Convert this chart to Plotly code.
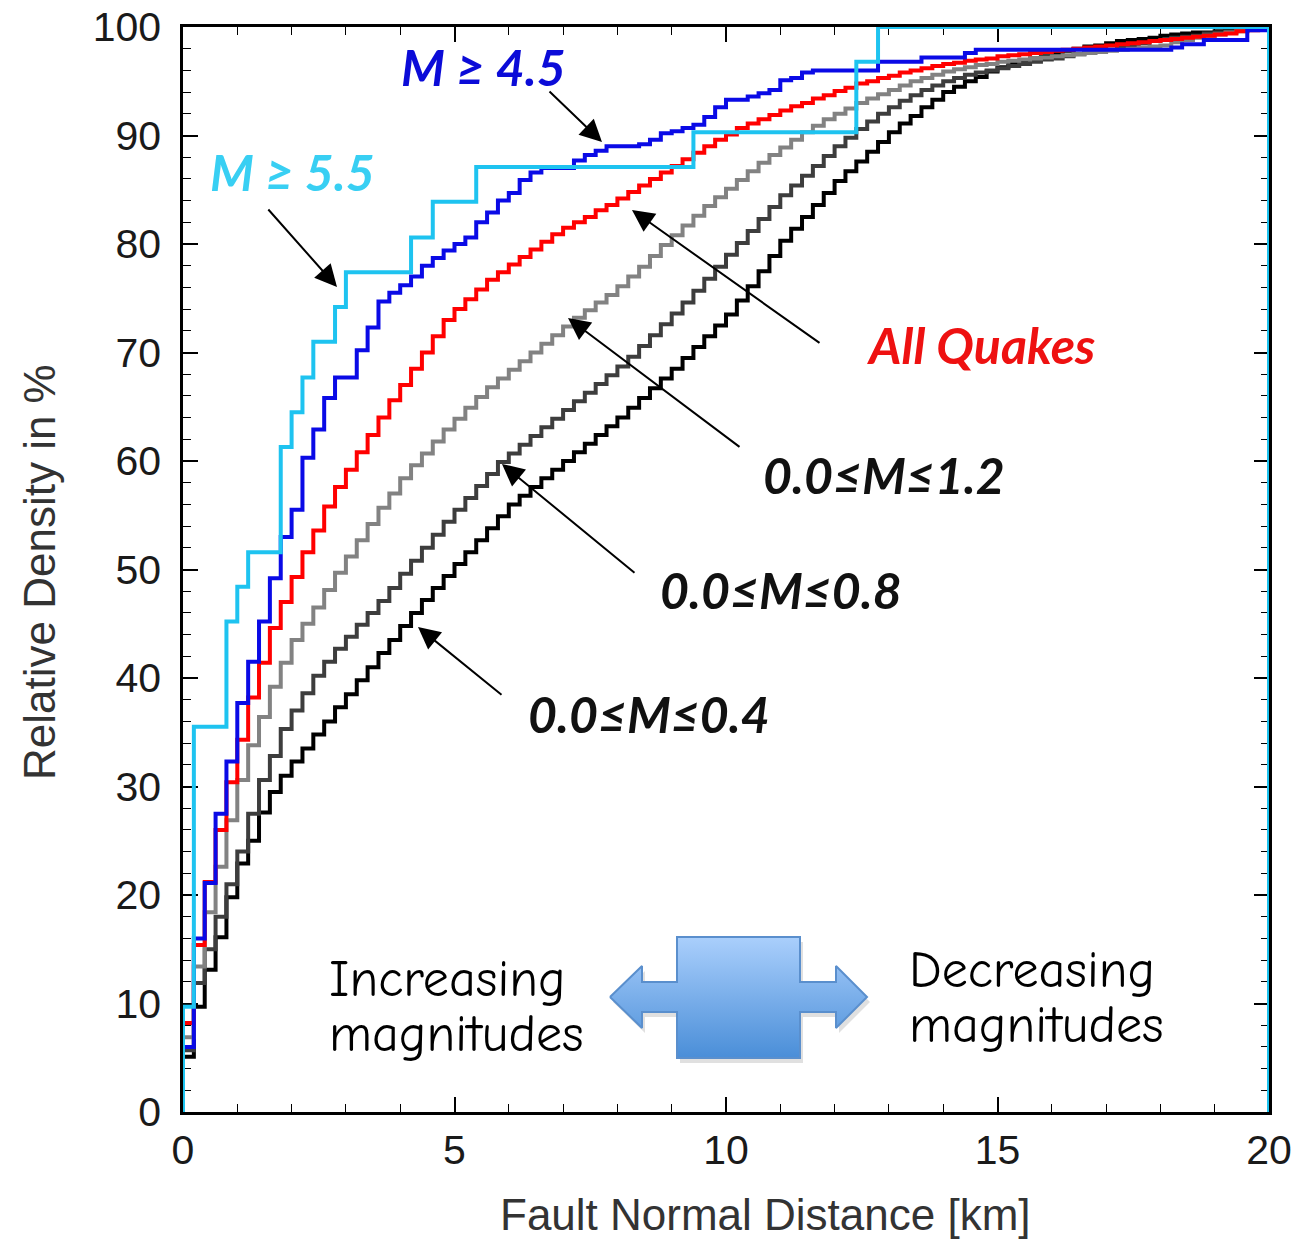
import numpy as np
import plotly.graph_objects as go

# ---------------- data ----------------
bin_width_km = 0.2
bin_left_km = np.round(np.arange(0, 20.0, bin_width_km), 1)   # 100 bins, 0.0 ... 19.8
x_max_km = 20.0

# cumulative relative density (%) at each 0.2 km bin
m00_04 = [5.1, 9.7, 13.1, 16.1, 19.8, 22.9, 25.0, 27.6, 29.5, 31.0,
          32.3, 33.5, 34.8, 36.0, 37.3, 38.5, 39.8, 41.0, 42.3, 43.5,
          44.8, 46.0, 47.2, 48.3, 49.4, 50.5, 51.6, 52.7, 53.8, 54.9,
          56.0, 56.8, 57.6, 58.4, 59.2, 60.0, 60.8, 61.6, 62.4, 63.2,
          64.0, 64.9, 65.8, 66.7, 67.6, 68.5, 69.5, 70.5, 71.5, 72.5,
          73.5, 74.8, 76.1, 77.5, 78.9, 80.3, 81.4, 82.5, 83.6, 84.7,
          85.8, 86.7, 87.6, 88.5, 89.4, 90.3, 91.1, 91.8, 92.6, 93.3,
          94.0, 94.5, 95.0, 95.4, 95.9, 96.3, 96.6, 96.8, 97.1, 97.3,
          97.6, 97.8, 98.0, 98.2, 98.3, 98.5, 98.7, 98.8, 98.9, 99.0,
          99.2, 99.3, 99.4, 99.5, 99.5, 99.6, 99.7, 99.8, 99.8, 99.9]

m00_08 = [5.7, 11.9, 15.0, 18.0, 21.0, 24.0, 27.5, 30.6, 32.8, 35.3,
          37.0, 38.6, 40.2, 41.5, 42.7, 43.8, 44.9, 46.0, 47.1, 48.3,
          49.6, 50.8, 52.0, 53.2, 54.4, 55.5, 56.6, 57.7, 58.8, 59.9,
          60.7, 61.5, 62.3, 63.1, 63.9, 64.7, 65.5, 66.3, 67.1, 67.9,
          68.7, 69.6, 70.6, 71.6, 72.6, 73.6, 74.6, 75.7, 76.8, 77.9,
          79.0, 80.1, 81.2, 82.3, 83.4, 84.5, 85.4, 86.3, 87.2, 88.1,
          89.0, 89.8, 90.6, 91.3, 92.0, 92.6, 93.2, 93.7, 94.2, 94.6,
          95.0, 95.3, 95.6, 95.8, 96.0, 96.2, 96.4, 96.6, 96.8, 97.0,
          97.1, 97.3, 97.5, 97.6, 97.8, 97.9, 98.1, 98.3, 98.5, 98.7,
          98.8, 99.0, 99.1, 99.2, 99.4, 99.5, 99.6, 99.7, 99.8, 99.9]

m00_12 = [6.9, 13.4, 18.4, 22.6, 26.9, 30.6, 33.8, 36.4, 39.2, 41.4,
          43.5, 45.0, 46.5, 48.1, 49.7, 51.2, 52.7, 54.2, 55.7, 57.0,
          58.4, 59.6, 60.7, 61.8, 62.9, 63.9, 64.9, 65.9, 66.8, 67.6,
          68.4, 69.2, 70.0, 70.8, 71.6, 72.4, 73.2, 73.9, 74.6, 75.3,
          76.1, 77.0, 77.9, 78.9, 79.9, 80.8, 81.7, 82.6, 83.5, 84.3,
          85.1, 85.9, 86.7, 87.5, 88.2, 88.9, 89.6, 90.3, 90.9, 91.5,
          92.0, 92.5, 93.0, 93.4, 93.8, 94.2, 94.6, 95.0, 95.3, 95.6,
          95.9, 96.1, 96.3, 96.5, 96.6, 96.8, 96.9, 97.0, 97.1, 97.2,
          97.3, 97.4, 97.5, 97.6, 97.7, 97.8, 97.9, 98.0, 98.1, 98.2,
          98.3, 98.6, 98.8, 99.0, 99.2, 99.3, 99.5, 99.6, 99.8, 99.9]

all_quakes = [8.2, 15.4, 21.2, 26.0, 30.4, 34.3, 38.2, 41.4, 44.6, 47.0,
              49.3, 51.6, 53.6, 55.8, 57.6, 59.2, 60.8, 62.4, 64.0, 65.6,
              67.0, 68.5, 70.0, 71.5, 73.0, 74.0, 74.9, 75.8, 76.7, 77.4,
              78.1, 78.8, 79.5, 80.2, 80.9, 81.5, 82.0, 82.5, 83.1, 83.6,
              84.2, 84.8, 85.4, 86.0, 86.6, 87.2, 87.8, 88.4, 89.0, 89.6,
              90.1, 90.7, 91.1, 91.5, 91.9, 92.3, 92.7, 93.0, 93.4, 93.7,
              94.1, 94.4, 94.8, 95.0, 95.3, 95.5, 95.8, 96.0, 96.2, 96.4,
              96.6, 96.7, 96.9, 97.0, 97.1, 97.3, 97.4, 97.5, 97.6, 97.7,
              97.8, 97.9, 98.0, 98.1, 98.2, 98.3, 98.4, 98.5, 98.6, 98.7,
              98.8, 98.9, 99.0, 99.1, 99.2, 99.3, 99.4, 99.6, 99.7, 99.9]

m_ge_45 = [6.0, 16.0, 21.1, 27.5, 32.3, 37.7, 41.5, 45.2, 49.2, 53.0,
           55.5, 60.3, 62.9, 65.8, 67.7, 67.7, 70.2, 72.3, 74.7, 75.5,
           76.2, 77.0, 78.0, 78.7, 79.4, 80.0, 80.6, 82.0, 82.9, 84.0,
           84.7, 85.9, 86.6, 87.0, 87.0, 87.0, 87.7, 88.2, 88.6, 89.0,
           89.0, 89.0, 89.2, 89.6, 90.2, 90.4, 90.7, 91.0, 91.7, 92.6,
           93.3, 93.3, 93.6, 93.9, 94.2, 95.1, 95.3, 95.8, 96.0, 96.0,
           96.0, 96.0, 96.0, 96.0, 96.8, 96.8, 96.8, 96.8, 97.2, 97.2,
           97.2, 97.2, 97.6, 97.9, 97.9, 97.9, 97.9, 97.9, 97.9, 97.9,
           97.9, 97.9, 97.9, 97.9, 97.9, 97.9, 97.9, 97.9, 97.9, 97.9,
           97.9, 98.1, 98.4, 98.4, 98.8, 98.8, 98.8, 98.8, 99.7, 99.7]

m_ge_55 = [9.7, 35.5, 35.5, 35.5, 45.2, 48.4, 51.6, 51.6, 51.6, 61.3,
           64.5, 67.7, 71.0, 71.0, 74.2, 77.4, 77.4, 77.4, 77.4, 77.4,
           77.4, 80.6, 80.6, 83.9, 83.9, 83.9, 83.9, 87.1, 87.1, 87.1,
           87.1, 87.1, 87.1, 87.1, 87.1, 87.1, 87.1, 87.1, 87.1, 87.1,
           87.1, 87.1, 87.1, 87.1, 87.1, 87.1, 87.1, 90.3, 90.3, 90.3,
           90.3, 90.3, 90.3, 90.3, 90.3, 90.3, 90.3, 90.3, 90.3, 90.3,
           90.3, 90.3, 96.8, 96.8, 100.0, 100.0, 100.0, 100.0, 100.0, 100.0,
           100.0, 100.0, 100.0, 100.0, 100.0, 100.0, 100.0, 100.0, 100.0, 100.0,
           100.0, 100.0, 100.0, 100.0, 100.0, 100.0, 100.0, 100.0, 100.0, 100.0,
           100.0, 100.0, 100.0, 100.0, 100.0, 100.0, 100.0, 100.0, 100.0, 100.0]

x_tick_vals = [0, 5, 10, 15, 20]
y_tick_vals = [0, 10, 20, 30, 40, 50, 60, 70, 80, 90, 100]

# ---------------- figure geometry ----------------
W, H = 1304, 1239
PX0, PX1, PY0, PY1 = 183, 1269, 27, 1112   # plot area in page pixels (body margin removed)
L, T, R, B = PX0, PY0, W - PX1, H - PY1


def px_to_paper(px, py):
    return (px - PX0) / (PX1 - PX0), (PY1 - py) / (PY1 - PY0)


series = [
    ("0.0≤M≤0.4", m00_04, "#000000"),
    ("0.0≤M≤0.8", m00_08, "#3d3d3d"),
    ("0.0≤M≤1.2", m00_12, "#828282"),
    ("All Quakes", all_quakes, "#ff0000"),
    ("M ≥ 4.5", m_ge_45, "#0a0ae6"),
    ("M ≥ 5.5", m_ge_55, "#1ec3f0"),
]

fig = go.Figure()
for name, vals, col in series:
    xs = [0.0] + list(bin_left_km) + [x_max_km]
    ys = [0.0] + list(vals) + [100.0]
    if name == "M ≥ 5.5":           # histogram outline closes down the right edge
        xs = xs + [x_max_km]
        ys = ys + [0.0]
    fig.add_trace(go.Scatter(x=xs, y=ys, mode="lines", name=name,
                             line=dict(color=col, width=4, shape="hv"),
                             showlegend=False, hoverinfo="skip"))

# decorative double arrow (page-pixel overlay axes)
arrow_px_x = [610, 642, 642, 677, 677, 800, 800, 836, 836, 867, 836, 836, 800, 800, 677, 677, 642, 642, 610]
arrow_px_y = [997, 966, 982, 982, 937, 937, 982, 982, 966, 997, 1028, 1012, 1012, 1058, 1058, 1012, 1012, 1028, 997]
fig.add_trace(go.Scatter(x=[v + 3 for v in arrow_px_x], y=[v + 5 for v in arrow_px_y],
                         xaxis="x2", yaxis="y2", mode="lines", fill="toself",
                         fillcolor="rgba(0,0,0,0.12)", line=dict(width=0),
                         showlegend=False, hoverinfo="skip"))
fig.add_trace(go.Scatter(x=arrow_px_x, y=arrow_px_y, xaxis="x2", yaxis="y2",
                         mode="lines", fill="toself",
                         fillgradient=dict(type="vertical", start=1058, stop=937,
                                           colorscale=[[0, "#4a8ed8"], [1, "#aacffc"]]),
                         line=dict(color="#5a8fcd", width=2),
                         showlegend=False, hoverinfo="skip"))

axis_common = dict(showline=True, linecolor="black", linewidth=2.5, mirror="allticks",
                   ticks="inside", ticklen=15, tickwidth=1.5, tickcolor="black",
                   showgrid=False, zeroline=False, layer="below traces", automargin=False,
                   ticklabeloverflow="allow",
                   tickfont=dict(family="Liberation Sans, Arial, sans-serif", size=41, color="#1a1a1a"))

fig.update_xaxes(range=[0, x_max_km], tickvals=x_tick_vals,
                 minor=dict(dtick=1, ticks="inside", ticklen=8, tickwidth=1.2, tickcolor="black"),
                 ticklabelstandoff=0, **axis_common)
fig.update_yaxes(range=[0, 100], tickvals=y_tick_vals,
                 minor=dict(dtick=2, ticks="inside", ticklen=8, tickwidth=1.2, tickcolor="black"),
                 ticklabelstandoff=11, **axis_common)

fig.update_layout(
    width=W, height=H,
    margin=dict(l=L, r=R, t=T, b=B, autoexpand=False),
    paper_bgcolor="white", plot_bgcolor="white",
    xaxis2=dict(overlaying="x", range=[PX0, PX1], visible=False, anchor="y2"),
    yaxis2=dict(overlaying="y", range=[PY1, PY0], visible=False, anchor="x2"),
    showlegend=False,
)

annotations = []
# axis titles
tx, ty = px_to_paper(765, 1214)
annotations.append(dict(x=tx, y=ty, xref="paper", yref="paper", showarrow=False,
                        xanchor="center", yanchor="middle",
                        text="Fault Normal Distance [km]",
                        font=dict(family="Liberation Sans, Arial, sans-serif", size=44, color="#333333")))
tx, ty = px_to_paper(40, 572)
annotations.append(dict(x=tx, y=ty, xref="paper", yref="paper", showarrow=False, textangle=-90,
                        xanchor="center", yanchor="middle",
                        text="Relative Density in %",
                        font=dict(family="Liberation Sans, Arial, sans-serif", size=44, color="#333333")))

# curve labels
label_font = "Lato, Open Sans, sans-serif"
labels = [
    ("M ≥ 4.5", 483, 67, "#0b0bd8"),
    ("M ≥ 5.5", 292, 172, "#38cff3"),
    ("All Quakes", 981, 345, "#ee1111"),
    ("0.0≤M≤1.2", 884, 475, "#111111"),
    ("0.0≤M≤0.8", 781, 590, "#111111"),
    ("0.0≤M≤0.4", 649, 714, "#111111"),
]
for txt, cx, cy, col in labels:
    tx, ty = px_to_paper(cx, cy)
    annotations.append(dict(x=tx, y=ty, xref="paper", yref="paper", showarrow=False,
                            xanchor="center", yanchor="middle",
                            text="<b><i>%s</i></b>" % txt,
                            font=dict(family=label_font, size=50, color=col)))

# pointer arrows: (tip_x, tip_y, tail_x, tail_y) in page pixels
pointers = [
    (602, 142, 548, 90),
    (337, 287, 267, 208),
    (632, 210, 821, 344),
    (568, 318, 741, 448),
    (502, 464, 636, 574),
    (418, 627, 503, 696),
]
for tipx, tipy, tailx, taily in pointers:
    tx, ty = px_to_paper(tipx, tipy)
    annotations.append(dict(x=tx, y=ty, xref="paper", yref="paper", showarrow=True,
                            ax=tailx - tipx, ay=taily - tipy, axref="pixel", ayref="pixel",
                            arrowhead=2, arrowsize=2.2, arrowwidth=2, arrowcolor="black",
                            text="", standoff=0))

# hand-written style notes
note_font = dict(family="Comic Sans MS, Comic Neue, Noto Sans, sans-serif", size=52, color="black")
for txt, lx, cy in [("Increasing", 327, 979), ("magnitudes", 327, 1034),
                    ("Decreasing", 907, 970), ("magnitudes", 907, 1025)]:
    tx, ty = px_to_paper(lx, cy)
    annotations.append(dict(x=tx, y=ty, xref="paper", yref="paper", showarrow=False,
                            xanchor="left", yanchor="middle", text=txt, font=note_font))

fig.update_layout(annotations=annotations)
fig.write_html("out.html",
               config={"displayModeBar": False},
               post_script="document.body.style.margin='0px';"
                           "document.documentElement.style.margin='0px';")
